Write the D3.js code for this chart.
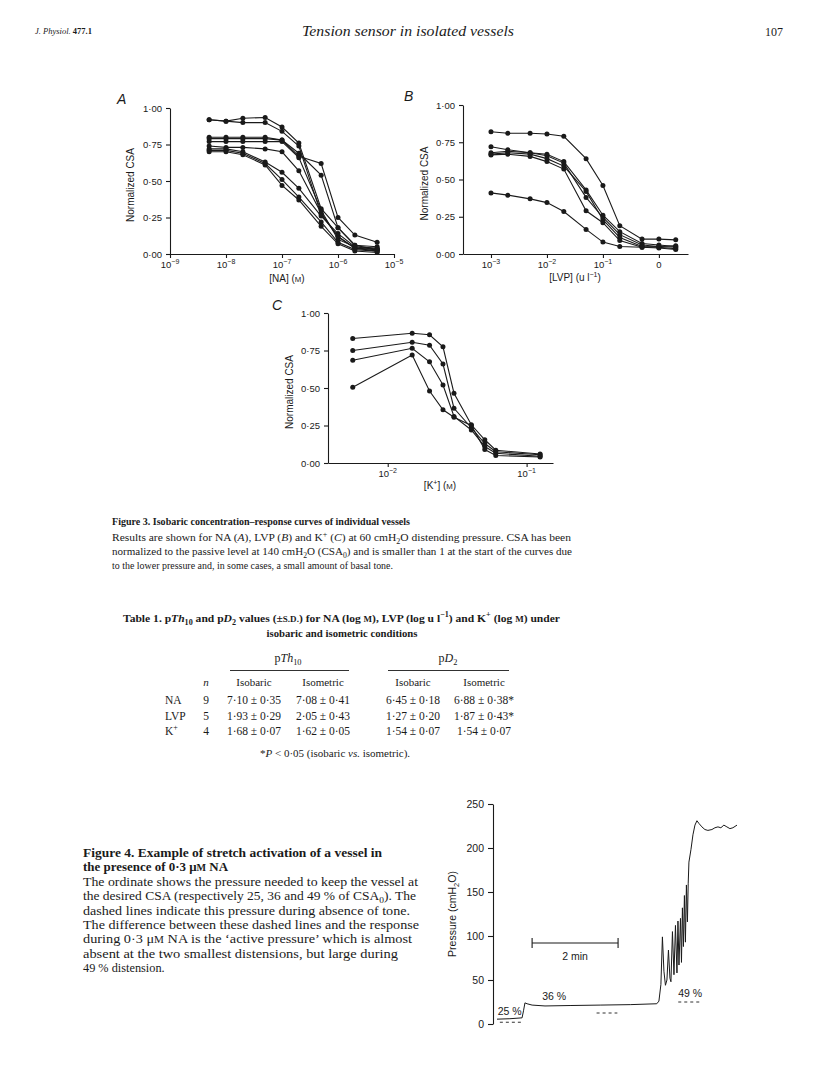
<!DOCTYPE html>
<html>
<head>
<meta charset="utf-8">
<script src="https://cdn.jsdelivr.net/npm/d3@7"></script>
<style>
  body { margin: 0; background: #fff; }
  svg { display: block; }
</style>
</head>
<body>
<svg id="page" width="816" height="1088"></svg>
<script>
// ---- Figure 3 data (normalized CSA vs concentration) ----
const naConc = [5e-9, 1e-8, 2e-8, 5e-8, 1e-7, 2e-7, 5e-7, 1e-6, 2e-6, 5e-6];
const naCurves = [
    [0.92, 0.91, 0.93, 0.935, 0.87, 0.76, 0.31, 0.18, 0.06, 0.03],
    [0.92, 0.91, 0.90, 0.90, 0.84, 0.74, 0.27, 0.12, 0.04, 0.02],
    [0.80, 0.80, 0.80, 0.80, 0.78, 0.67, 0.62, 0.25, 0.13, 0.08],
    [0.79, 0.79, 0.79, 0.79, 0.78, 0.69, 0.54, 0.18, 0.06, 0.05],
    [0.77, 0.77, 0.77, 0.77, 0.77, 0.66, 0.30, 0.10, 0.05, 0.04],
    [0.74, 0.73, 0.73, 0.72, 0.70, 0.57, 0.28, 0.12, 0.04, 0.03],
    [0.72, 0.72, 0.70, 0.63, 0.56, 0.45, 0.26, 0.14, 0.05, 0.03],
    [0.71, 0.71, 0.69, 0.62, 0.51, 0.39, 0.22, 0.08, 0.03, 0.02],
    [0.70, 0.70, 0.68, 0.61, 0.47, 0.37, 0.19, 0.07, 0.02, 0.01]
];
const lvpConc = [0.001, 0.002, 0.005, 0.01, 0.02, 0.05, 0.1, 0.2, 0.5, 1, 2];
const lvpCurves = [
    [0.82, 0.81, 0.81, 0.805, 0.79, 0.64, 0.46, 0.19, 0.10, 0.10, 0.095],
    [0.72, 0.70, 0.68, 0.67, 0.62, 0.43, 0.26, 0.15, 0.07, 0.06, 0.05],
    [0.68, 0.69, 0.68, 0.66, 0.61, 0.38, 0.245, 0.13, 0.06, 0.05, 0.045],
    [0.67, 0.68, 0.67, 0.64, 0.59, 0.42, 0.23, 0.11, 0.05, 0.045, 0.035],
    [0.665, 0.67, 0.655, 0.62, 0.57, 0.29, 0.21, 0.09, 0.045, 0.04, 0.03],
    [0.41, 0.395, 0.37, 0.345, 0.285, 0.165, 0.08, 0.05, 0.045, 0.05, 0.055]
];
const kConc = [0.0056, 0.015, 0.02, 0.025, 0.03, 0.04, 0.05, 0.06, 0.125];
const kCurves = [
    [0.83, 0.865, 0.855, 0.775, 0.465, 0.255, 0.155, 0.085, 0.06],
    [0.75, 0.805, 0.785, 0.66, 0.365, 0.235, 0.13, 0.075, 0.055],
    [0.685, 0.765, 0.675, 0.52, 0.31, 0.22, 0.11, 0.065, 0.045],
    [0.505, 0.72, 0.48, 0.355, 0.305, 0.25, 0.09, 0.05, 0.04]
];
const csaTicks = [0, 0.25, 0.5, 0.75, 1];
const naTicks = [1e-9, 1e-8, 1e-7, 1e-6, 1e-5];
const naTickLabels = [["10", "−9"], ["10", "−8"], ["10", "−7"], ["10", "−6"], ["10", "−5"]];
const lvpTicks = [0.001, 0.01, 0.1, 1];
const lvpTickLabels = [["10", "−3"], ["10", "−2"], ["10", "−1"], ["0", ""]];
const kTicks = [0.01, 0.1];
const kTickLabels = [["10", "−2"], ["10", "−1"]];

// ---- Table 1 ----
const tableRows = ["NA", "LVP", "K⁺"];
const tableN = [9, 5, 4];
const thIsobaric = ["7·10 ± 0·35", "1·93 ± 0·29", "1·68 ± 0·07"];
const thIsometric = ["7·08 ± 0·41", "2·05 ± 0·43", "1·62 ± 0·05"];
const d2Isobaric = ["6·45 ± 0·18", "1·27 ± 0·20", "1·54 ± 0·07"];
const d2Isometric = ["6·88 ± 0·38*", "1·87 ± 0·43*", "1·54 ± 0·07"];

// ---- Figure 4 data: pressure trace (time in s, pressure in cmH2O) ----
const traceTime = [0, 18, 35, 37, 39, 42, 49, 67, 102, 144, 186, 223, 226, 228.8, 230.9, 233, 235.1,
    237.2, 239.3, 241.4, 242.8, 244.9, 247, 249.1, 251.2, 252.6, 254, 256.1, 257.5, 258.8, 260.2,
    261.6, 263, 264.4, 265.8, 266.9, 267.9, 270.7, 273.5, 276.3, 279.1, 281.8, 286, 290.2, 294.4,
    300, 304.2, 308.4, 312.5, 316.7, 320.9, 325.1, 329.3, 335];
const tracePressure = [5.5, 6, 7, 15, 24, 23, 21.5, 20.5, 21, 21.5, 22, 23, 26, 45, 99, 60, 44,
    50, 84, 52, 48, 105, 56, 112, 58, 117, 67, 120, 70, 132, 88,
    146, 93, 158, 116, 160, 184, 198, 215, 226, 231, 228, 224, 221, 220,
    221, 223, 224, 223, 226, 224, 222, 223, 226];
const pressureTicks = [0, 50, 100, 150, 200, 250];
// passive pressure (dashed) at each distension
const passive = [
    { label: "25 %", p: 2, t0: 4, t1: 35, lt: 1, lp: 10 },
    { label: "36 %", p: 12.5, t0: 139, t1: 168, lt: 63, lp: 27 },
    { label: "49 %", p: 25, t0: 253, t1: 284, lt: 253, lp: 31 }
];
const scaleBar = { t0: 49, len: 120, p: 92, label: "2 min" };

const svg = d3.select("#page");
const SANS = "'Liberation Sans', Arial, sans-serif";
const SERIF = "'Liberation Serif', 'Times New Roman', serif";
const INK = "#1a1a1a";

// tiny markup: <i> <b> <sub> <sup> <sc>
function rich(text, str, size) {
    const re = /<(i|b|sub|sup|sc)>(.*?)<\/\1>|([^<]+|<)/g;
    let m;
    while ((m = re.exec(str))) {
        const ts = text.append("tspan");
        if (m[3]) { ts.text(m[3]); continue; }
        ts.text(m[2]);
        if (m[1] == "i") ts.attr("font-style", "italic");
        if (m[1] == "b") ts.attr("font-weight", "bold");
        if (m[1] == "sub") ts.attr("baseline-shift", -size * 0.25).attr("font-size", size * 0.7);
        if (m[1] == "sup") ts.attr("baseline-shift", size * 0.4).attr("font-size", size * 0.7);
        if (m[1] == "sc") ts.attr("font-size", size * 0.78);
    }
    return text;
}

function line(str, x, y, size, opts = {}) {
    const t = svg.append("text")
        .attr("x", x).attr("y", y)
        .attr("font-family", opts.family || SERIF)
        .attr("font-size", size)
        .attr("fill", INK)
        .attr("text-anchor", opts.anchor || "start");
    if (opts.weight) t.attr("font-weight", opts.weight);
    if (opts.style) t.attr("font-style", opts.style);
    if (opts.width) t.attr("textLength", opts.width).attr("lengthAdjust", "spacingAndGlyphs");
    return rich(t, str, size);
}

// ---- page header ----
line("<i>J. Physiol.</i> <b>477.1</b>", 35, 34, 8.5);
line("Tension sensor in isolated vessels", 408, 36, 14, { anchor: "middle", style: "italic", width: 212 });
line("107", 783, 36, 12, { anchor: "end" });

// ---- Figure 3 panels ----
function panel(o) {
    const g = svg.append("g");
    const x = d3.scaleLog().domain(o.xDomain).range(o.xRange);
    const y = d3.scaleLinear().domain([0, 1]).range(o.yRange);

    const xa = g.append("g")
        .attr("transform", `translate(0,${o.yRange[0]})`)
        .call(d3.axisBottom(x).tickValues(o.xTicks).tickFormat("").tickSize(4).tickSizeOuter(0));
    const ya = g.append("g")
        .attr("transform", `translate(${o.xRange[0]},0)`)
        .call(d3.axisLeft(y).tickValues(csaTicks).tickSize(4).tickSizeOuter(0).tickPadding(4)
            .tickFormat(d => d3.format(".2f")(d).replace(".", "·")));
    [xa, ya].forEach(a => {
        a.selectAll("path, line").attr("stroke", INK).attr("stroke-width", 1.1);
        a.selectAll("text").attr("font-family", SANS).attr("font-size", 9.5).attr("fill", INK);
    });

    // decade tick labels with superscripts
    o.xTicks.forEach((v, i) => {
        const lab = o.xTickLabels[i];
        const t = g.append("text")
            .attr("x", x(v)).attr("y", o.yRange[0] + 14)
            .attr("text-anchor", "middle")
            .attr("font-family", SANS).attr("font-size", 9.5).attr("fill", INK);
        t.append("tspan").text(lab[0]);
        if (lab[1]) t.append("tspan").attr("baseline-shift", 4).attr("font-size", 7).text(lab[1]);
    });

    line(o.xTitle, o.xTitleX, o.yRange[0] + o.xTitleDy, 10, { family: SANS, anchor: "middle" });
    svg.append("text")
        .attr("transform", `translate(${o.yTitleX},${(o.yRange[0] + o.yRange[1]) / 2 + 4}) rotate(-90)`)
        .attr("text-anchor", "middle")
        .attr("font-family", SANS).attr("font-size", 10).attr("fill", INK)
        .text("Normalized CSA");
    line(o.letter, o.letterPos[0], o.letterPos[1], 14, { family: SANS, style: "italic" });

    const gen = d3.line().x((d, i) => x(o.conc[i])).y(d => y(d));
    o.curves.forEach(c => {
        g.append("path").attr("d", gen(c)).attr("fill", "none")
            .attr("stroke", INK).attr("stroke-width", 1.1);
        g.selectAll(null).data(c).enter().append("circle")
            .attr("cx", (d, i) => x(o.conc[i])).attr("cy", d => y(d))
            .attr("r", 2.5).attr("fill", INK);
    });
}

panel({
    xDomain: [1e-9, 1e-5], xRange: [170, 394], yRange: [254, 108],
    xTicks: naTicks, xTickLabels: naTickLabels, conc: naConc, curves: naCurves,
    xTitle: "[NA] (<sc>M</sc>)", xTitleX: 287, xTitleDy: 28, yTitleX: 134, letter: "A", letterPos: [117, 104]
});
panel({
    xDomain: [Math.pow(10, -3.5), Math.pow(10, 0.52)], xRange: [463, 688], yRange: [254, 105],
    xTicks: lvpTicks, xTickLabels: lvpTickLabels, conc: lvpConc, curves: lvpCurves,
    xTitle: "[LVP] (u l<sup>−1</sup>)", xTitleX: 575, xTitleDy: 27, yTitleX: 428, letter: "B", letterPos: [404, 101]
});
panel({
    xDomain: [Math.pow(10, -2.43), Math.pow(10, -0.81)], xRange: [328, 553], yRange: [463, 313],
    xTicks: kTicks, xTickLabels: kTickLabels, conc: kConc, curves: kCurves,
    xTitle: "[K<sup>+</sup>] (<sc>M</sc>)", xTitleX: 440, xTitleDy: 26, yTitleX: 293, letter: "C", letterPos: [272, 310]
});

// ---- Figure 3 caption ----
line("Figure 3. Isobaric concentration–response curves of individual vessels", 112, 525, 11, { weight: "bold", width: 298 });
line("Results are shown for NA (<i>A</i>), LVP (<i>B</i>) and K<sup>+</sup> (<i>C</i>) at 60 cmH<sub>2</sub>O distending pressure. CSA has been", 112, 541, 11, { width: 459 });
line("normalized to the passive level at 140 cmH<sub>2</sub>O (CSA<sub>0</sub>) and is smaller than 1 at the start of the curves due", 112, 555, 11, { width: 460 });
line("to the lower pressure and, in some cases, a small amount of basal tone.", 112, 569, 11, { width: 281 });

// ---- Table 1 ----
line("Table 1. p<i>Th</i><sub>10</sub> and p<i>D</i><sub>2</sub> values (±<sc>S.D.</sc>) for NA (log <sc>M</sc>), LVP (log u l<sup>−1</sup>) and K<sup>+</sup> (log <sc>M</sc>) under",
    123, 622, 11.3, { weight: "bold", width: 437 });
line("isobaric and isometric conditions", 342, 637, 11.3, { weight: "bold", anchor: "middle", width: 151 });
line("p<i>Th</i><sub>10</sub>", 288, 662, 12, { anchor: "middle" });
line("p<i>D</i><sub>2</sub>", 448, 662, 12, { anchor: "middle" });
[[230, 349], [388, 509]].forEach(r => {
    svg.append("line").attr("x1", r[0]).attr("x2", r[1]).attr("y1", 670.5).attr("y2", 670.5)
        .attr("stroke", INK).attr("stroke-width", 0.9);
});
line("<i>n</i>", 206, 686, 11, { anchor: "middle" });
const colX = [254, 323, 413, 484];
["Isobaric", "Isometric", "Isobaric", "Isometric"].forEach((h, i) => line(h, colX[i], 686, 11, { anchor: "middle" }));
const rowY = d3.scalePoint().domain(tableRows).range([704, 735]);
tableRows.forEach((r, i) => {
    const yy = rowY(r);
    line(r.replace("⁺", "<sup>+</sup>"), 165, yy, 11.5);
    line(String(tableN[i]), 206, yy, 11.5, { anchor: "middle" });
    [thIsobaric, thIsometric, d2Isobaric, d2Isometric].forEach((col, j) => {
        line(col[i], colX[j], yy, 11.5, { anchor: "middle" });
    });
});
line("*<i>P</i> < 0·05 (isobaric <i>vs.</i> isometric).", 335, 757, 11, { anchor: "middle" });

// ---- Figure 4 caption ----
const fig4Lines = [
    ["Figure 4. Example of stretch activation of a vessel in", 299, "bold"],
    ["the presence of 0·3 μ<sc>M</sc> NA", 145, "bold"],
    ["The ordinate shows the pressure needed to keep the vessel at", 335],
    ["the desired CSA (respectively 25, 36 and 49 % of CSA<sub>0</sub>). The", 333],
    ["dashed lines indicate this pressure during absence of tone.", 327],
    ["The difference between these dashed lines and the response", 336],
    ["during 0·3 μ<sc>M</sc> NA is the ‘active pressure’ which is almost", 329],
    ["absent at the two smallest distensions, but large during", 315],
    ["49 % distension.", 0]
];
fig4Lines.forEach((l, i) => line(l[0], 83, 857 + i * 14.4, 12.3, { weight: l[2], width: l[1] || null }));

// ---- Figure 4 trace ----
const tx = d3.scaleLinear().domain([0, 335]).range([497, 737]);
const py = d3.scaleLinear().domain([0, 250]).range([1024, 804]);
const pa = svg.append("g").attr("transform", "translate(493,0)")
    .call(d3.axisLeft(py).tickValues(pressureTicks).tickSize(5).tickSizeOuter(0).tickPadding(4));
pa.selectAll("path, line").attr("stroke", INK).attr("stroke-width", 1.1);
pa.selectAll("text").attr("font-family", SANS).attr("font-size", 10.5).attr("fill", INK);

const yl = svg.append("text")
    .attr("transform", `translate(456,${py(125)}) rotate(-90)`)
    .attr("text-anchor", "middle").attr("font-family", SANS).attr("font-size", 10.5).attr("fill", INK);
rich(yl, "Pressure (cmH<sub>2</sub>O)", 10.5);

svg.append("path")
    .attr("d", d3.line().x((d, i) => tx(traceTime[i])).y(d => py(d))(tracePressure))
    .attr("fill", "none").attr("stroke", INK).attr("stroke-width", 1).attr("stroke-linejoin", "round");

passive.forEach(s => {
    svg.append("line").attr("x1", tx(s.t0)).attr("x2", tx(s.t1)).attr("y1", py(s.p)).attr("y2", py(s.p))
        .attr("stroke", INK).attr("stroke-width", 0.9).attr("stroke-dasharray", "3,3");
    line(s.label, tx(s.lt), py(s.lp), 10.5, { family: SANS });
});

const sb = svg.append("g");
sb.append("line").attr("x1", tx(scaleBar.t0)).attr("x2", tx(scaleBar.t0 + scaleBar.len))
    .attr("y1", py(scaleBar.p)).attr("y2", py(scaleBar.p)).attr("stroke", INK).attr("stroke-width", 1.1);
[scaleBar.t0, scaleBar.t0 + scaleBar.len].forEach(t => {
    sb.append("line").attr("x1", tx(t)).attr("x2", tx(t)).attr("y1", py(scaleBar.p) - 5).attr("y2", py(scaleBar.p) + 5)
        .attr("stroke", INK).attr("stroke-width", 1.1);
});
line(scaleBar.label, tx(scaleBar.t0 + scaleBar.len / 2), py(scaleBar.p) + 17, 10.5, { family: SANS, anchor: "middle" });
</script>
</body>
</html>
